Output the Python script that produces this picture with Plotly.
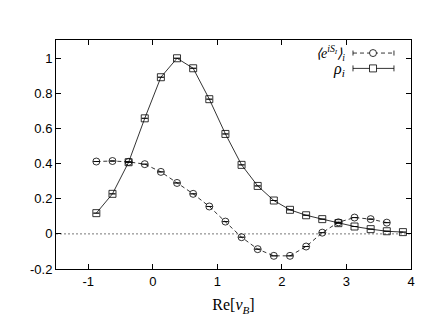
import plotly.graph_objects as go

# x positions of the samples
x_rho = [-0.875, -0.625, -0.375, -0.125, 0.125, 0.375, 0.625, 0.875, 1.125, 1.375,
         1.625, 1.875, 2.125, 2.375, 2.625, 2.875, 3.125, 3.375, 3.625, 3.875]
rho = [0.118, 0.228, 0.408, 0.658, 0.892, 1.0, 0.943, 0.767, 0.569, 0.393,
       0.273, 0.19, 0.137, 0.106, 0.084, 0.061, 0.042, 0.027, 0.015, 0.01]

x_phase = [-0.875, -0.625, -0.375, -0.125, 0.125, 0.375, 0.625, 0.875, 1.125, 1.375,
           1.625, 1.875, 2.125, 2.375, 2.625, 2.875, 3.125, 3.375, 3.625]
phase = [0.412, 0.415, 0.41, 0.397, 0.353, 0.29, 0.228, 0.156, 0.07, -0.019,
         -0.087, -0.125, -0.125, -0.072, 0.007, 0.066, 0.093, 0.084, 0.064]

x_ticks = [-1, 0, 1, 2, 3, 4]
x_tick_labels = ["-1", "0", "1", "2", "3", "4"]
y_ticks = [-0.2, 0, 0.2, 0.4, 0.6, 0.8, 1]
y_tick_labels = ["-0.2", "0", "0.2", "0.4", "0.6", "0.8", "1"]

legend_phase = "⟨e<sup>iS<sub>I</sub></sup>⟩<sub>i</sub>"
legend_rho = "ρ<sub>i</sub>"

fig = go.Figure()

fig.add_trace(go.Scatter(
    x=x_phase, y=phase, mode="lines+markers",
    line=dict(color="black", width=0.8, dash="4px,3px"),
    marker=dict(symbol="circle-open", size=7, color="black", line=dict(width=0.8)),
    error_y=dict(type="constant", value=0, color="black", thickness=0.8, width=3),
    showlegend=False,
))
fig.add_trace(go.Scatter(
    x=x_rho, y=rho, mode="lines+markers",
    line=dict(color="black", width=0.8),
    marker=dict(symbol="square-open", size=7, color="black", line=dict(width=0.8)),
    error_y=dict(type="constant", value=0, color="black", thickness=0.8, width=3),
    showlegend=False,
))

# zero reference line
fig.add_shape(type="line", xref="paper", yref="y", x0=0, x1=1, y0=0, y1=0,
              line=dict(color="#555", width=0.8, dash="2px,2px"), layer="below")

# manual legend (gnuplot style: text left of the symbol)
ly1, ly2 = 0.943, 0.876
lx0, lx1, lxm = 0.8366, 0.952, 0.893
serif = "Liberation Serif"
fig.add_annotation(xref="paper", yref="paper", x=0.818, y=ly1, text="<i>" + legend_phase + "</i>",
                   showarrow=False, xanchor="right", yanchor="middle", borderpad=0,
                   font=dict(family=serif, size=14, color="black"))
fig.add_annotation(xref="paper", yref="paper", x=0.818, y=ly2 - 0.005, text="<i>" + legend_rho + "</i>",
                   showarrow=False, xanchor="right", yanchor="middle", borderpad=0,
                   font=dict(family=serif, size=16, color="black"))
fig.add_shape(type="line", xref="paper", yref="paper", x0=lx0, x1=lx1, y0=ly1, y1=ly1,
              line=dict(color="black", width=0.8, dash="4px,3px"))
fig.add_shape(type="line", xref="paper", yref="paper", x0=lx0, x1=lx1, y0=ly2, y1=ly2,
              line=dict(color="black", width=0.8))
for cx in (lx0, lx1):
    fig.add_shape(type="line", xref="paper", yref="paper", x0=cx, x1=cx,
                  y0=ly1 - 0.011, y1=ly1 + 0.011, line=dict(color="black", width=0.8))
    fig.add_shape(type="line", xref="paper", yref="paper", x0=cx, x1=cx,
                  y0=ly2 - 0.013, y1=ly2 + 0.013, line=dict(color="black", width=0.8))
dx, dy = 0.0099, 0.0153
fig.add_shape(type="circle", xref="paper", yref="paper", x0=lxm - dx, x1=lxm + dx,
              y0=ly1 - dy, y1=ly1 + dy, line=dict(color="black", width=0.8), fillcolor="white")
fig.add_shape(type="rect", xref="paper", yref="paper", x0=lxm - dx, x1=lxm + dx,
              y0=ly2 - dy, y1=ly2 + dy, line=dict(color="black", width=0.8), fillcolor="white")

axis_common = dict(
    showgrid=False, zeroline=False, showline=True, linecolor="black", linewidth=1,
    mirror="ticks", ticks="inside", ticklen=5, tickcolor="black", tickwidth=1,
    tickfont=dict(family="Liberation Sans", size=13, color="black"),
)

fig.update_xaxes(range=[-1.5, 4], tickvals=x_ticks, ticktext=x_tick_labels,
                 title=dict(text="Re[<i>ν</i><sub><i>B</i></sub>]",
                            font=dict(family=serif, size=16, color="black"), standoff=11),
                 **axis_common)
fig.update_yaxes(range=[-0.2, 1.104], tickvals=y_ticks, ticktext=y_tick_labels, **axis_common)

# the page body has an 8px margin, so the figure is 8px smaller and its margins shifted
fig.update_layout(
    width=428, height=319,
    margin=dict(l=48, r=25, t=32, b=58),
    paper_bgcolor="white", plot_bgcolor="white",
)

fig.write_html("out.html")
